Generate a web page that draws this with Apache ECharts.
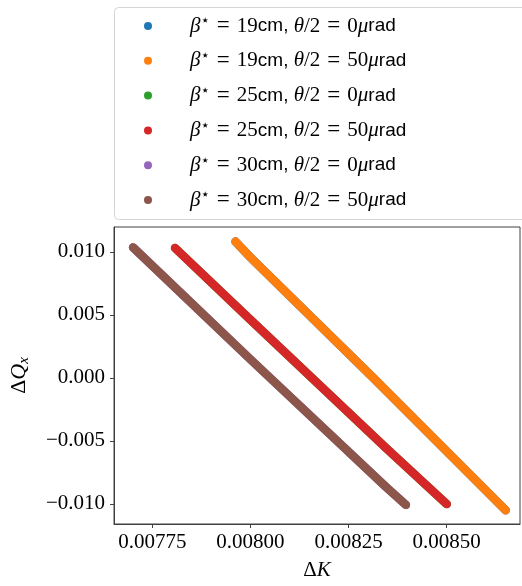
<!DOCTYPE html>
<html>
<head>
<meta charset="utf-8">
<script src="https://cdn.jsdelivr.net/npm/echarts@6/dist/echarts.min.js"></script>
<style>
html,body{margin:0;padding:0;background:#fff;}
#chart{width:522px;height:586px;}
</style>
</head>
<body>
<div id="chart"></div>
<script>
// dK on x, dQx on y
var k19_50 = [0.007962, 0.007999, 0.008311, 0.008650];
var q19_50 = [0.01082, 0.00960, 0.00006, -0.01051];
var k25_50 = [0.007808, 0.007999, 0.008345, 0.008500];
var q25_50 = [0.01031, 0.00465, -0.00555, -0.01002];
var k30_50 = [0.007701, 0.007999, 0.008345, 0.008396];
var q30_50 = [0.01036, 0.00150, -0.00865, -0.01008];
// 0 urad runs sit under the 50 urad ones
var k19_0 = k19_50, q19_0 = q19_50;
var k25_0 = k25_50, q25_0 = q25_50;
var k30_0 = k30_50, q30_0 = q30_50;

var betas = ['19', '19', '25', '25', '30', '30'];
var thetas = ['0', '50', '0', '50', '0', '50'];
var xTicks = [0.00775, 0.00800, 0.00825, 0.00850];
var yTicks = [-0.010, -0.005, 0.000, 0.005, 0.010];

var colors = ['#1f77b4', '#ff7f0e', '#2ca02c', '#d62728', '#9467bd', '#8c564b'];
var ks = [k19_0, k19_50, k25_0, k25_50, k30_0, k30_50];
var qs = [q19_0, q19_50, q25_0, q25_50, q30_0, q30_50];

function pairs(a, b){
    return a.map(function(v, i){ return [v, b[i]]; });
}

var names = betas.map(function(b, i){
    return 'β⋆ = ' + b + 'cm, θ/2 = ' + thetas[i] + 'μrad';
});

var series = names.map(function(n, i){
    return {
        name: n,
        type: 'line',
        data: pairs(ks[i], qs[i]),
        showSymbol: false,
        color: colors[i],
        lineStyle: {width: 8.5, cap: 'round', join: 'round', color: colors[i]},
        animation: false,
        z: 2 + i
    };
});

var serif = 'Liberation Serif';
var chart = echarts.init(document.getElementById('chart'));

chart.setOption({
    backgroundColor: '#fff',
    animation: false,
    graphic: [{
        type: 'rect',
        shape: {x: 114.5, y: 7.5, width: 420, height: 212, r: 4},
        style: {fill: '#fff', stroke: '#d4d4d4', lineWidth: 1},
        z: 0
    }],
    legend: {
        data: names.map(function(n){ return {name: n, icon: 'circle'}; }),
        orient: 'vertical',
        left: 139,
        top: 9,
        itemWidth: 8,
        itemHeight: 8,
        itemGap: 10.8,
        formatter: function(name){
            var i = names.indexOf(name);
            return '{g| }{m|β}{sup|⋆}{eq|=}{n|' + betas[i] + '}{t|cm, }{m|θ}{n|/2}{eq|=}{n|' + thetas[i] + '}{m|μ}{t|rad}';
        },
        textStyle: {
            color: '#000',
            lineHeight: 24,
            rich: {
                g: {width: 33},
                m: {fontFamily: serif, fontStyle: 'italic', fontSize: 21, color: '#000'},
                sup: {fontFamily: 'DejaVu Sans', fontSize: 15, color: '#000', padding: [0, 0, 9, 0]},
                eq: {fontFamily: serif, fontSize: 23, color: '#000', padding: [0, 7, 0, 7]},
                n: {fontFamily: serif, fontSize: 21, color: '#000'},
                t: {fontFamily: 'Liberation Sans', fontSize: 19, color: '#000'}
            }
        }
    },
    grid: {
        left: 114, top: 227, right: 2, bottom: 53,
        show: true, borderColor: '#404040', borderWidth: 1, backgroundColor: '#fff'
    },
    xAxis: {
        type: 'value',
        min: 0.0076525,
        max: 0.0086866,
        name: '{a|Δ}{b|K}',
        nameLocation: 'middle',
        nameGap: 36,
        nameTextStyle: {
            rich: {
                a: {fontFamily: serif, fontSize: 21, color: '#000'},
                b: {fontFamily: serif, fontStyle: 'italic', fontSize: 21, color: '#000'}
            }
        },
        splitLine: {show: false},
        axisLine: {show: true, onZero: false, lineStyle: {color: '#404040', width: 1}},
        axisTick: {show: true, length: 4, customValues: xTicks, lineStyle: {color: '#404040'}},
        axisLabel: {
            customValues: xTicks,
            margin: 8,
            fontFamily: serif,
            fontSize: 21,
            color: '#000',
            formatter: function(v){ return v.toFixed(5); }
        }
    },
    yAxis: {
        type: 'value',
        min: -0.0116,
        max: 0.01198,
        name: '{a|Δ}{b|Q}{c|x}',
        nameLocation: 'middle',
        nameGap: 82,
        nameRotate: 90,
        nameTextStyle: {
            rich: {
                a: {fontFamily: serif, fontSize: 22, color: '#000'},
                b: {fontFamily: serif, fontStyle: 'italic', fontSize: 22, color: '#000'},
                c: {fontFamily: serif, fontStyle: 'italic', fontSize: 15, color: '#000', padding: [10, 0, 0, 0]}
            }
        },
        splitLine: {show: false},
        axisLine: {show: true, onZero: false, lineStyle: {color: '#404040', width: 1}},
        axisTick: {show: true, length: 4, customValues: yTicks, lineStyle: {color: '#404040'}},
        axisLabel: {
            customValues: yTicks,
            margin: 9,
            fontFamily: serif,
            fontSize: 21,
            color: '#000',
            formatter: function(v){
                return (v < 0 ? '−' : '') + Math.abs(v).toFixed(3);
            }
        }
    },
    series: series
});
</script>
</body>
</html>
